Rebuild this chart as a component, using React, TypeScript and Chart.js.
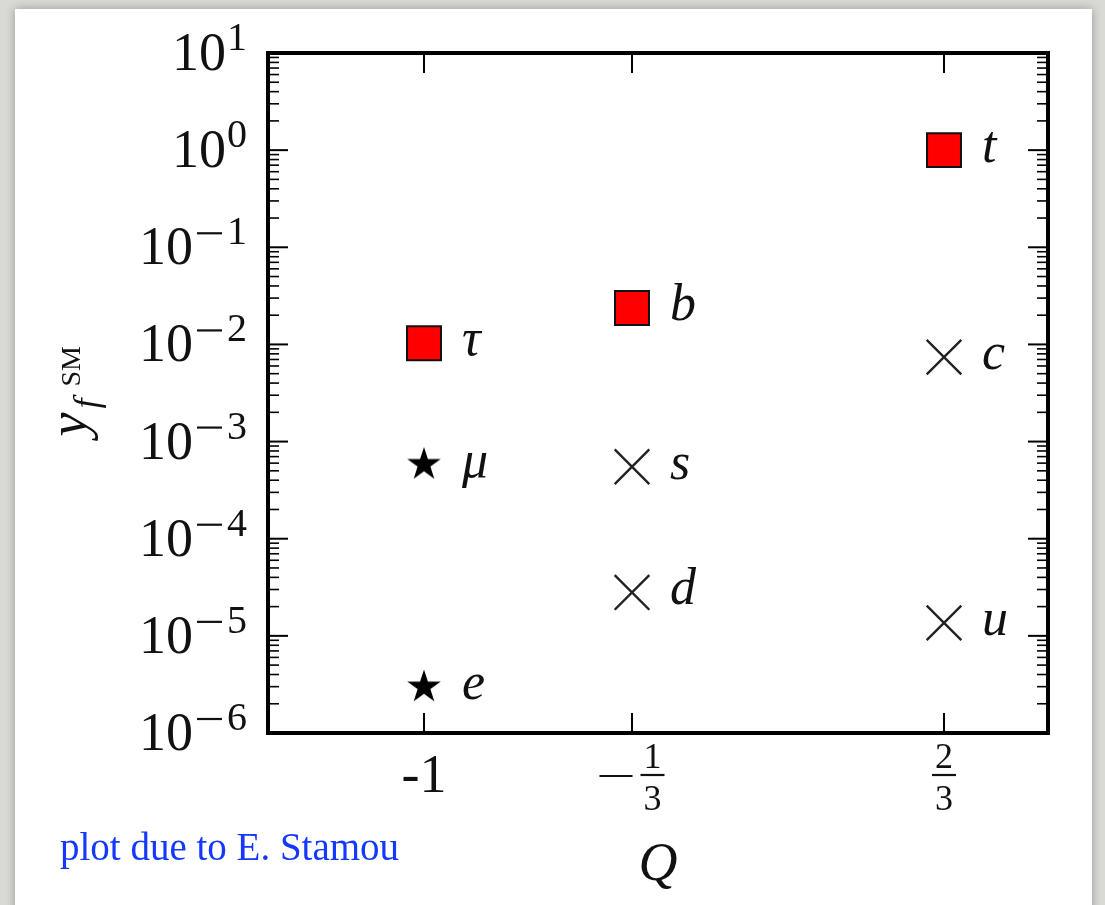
import React, { useEffect, useRef } from "react";
import { Chart, registerables } from "chart.js";

Chart.register(...registerables);

// ---- data ----
const squareLabels = ["τ", "b", "t"];
const squareCharges = [-1, -1 / 3, 2 / 3];
const squareYukawas = [0.0103, 0.0237, 1.0];

const starLabels = ["μ", "e"];
const starCharges = [-1, -1];
const starYukawas = [5.8e-4, 2.97e-6];

const crossLabels = ["s", "d", "c", "u"];
const crossCharges = [-1 / 3, -1 / 3, 2 / 3, 2 / 3];
const crossYukawas = [5.5e-4, 2.8e-5, 7.4e-3, 1.36e-5];

const yTickExponents = [-6, -5, -4, -3, -2, -1, 0, 1];
const xTickValues = [-1, -1 / 3, 2 / 3];
const xTickLabels = ["-1", "-1/3", "2/3"];

const xAxisTitle = "Q";
const creditText = "plot due to E. Stamou";

const SERIF = '"Liberation Serif", "Times New Roman", serif';

function makeStar(): HTMLCanvasElement {
  const c = document.createElement("canvas");
  c.width = 38;
  c.height = 38;
  const g = c.getContext("2d")!;
  const R = 17.6;
  const r = R * 0.381966;
  const cx = 19;
  const cy = 19;
  g.beginPath();
  for (let i = 0; i < 10; i++) {
    const rad = i % 2 === 0 ? R : r;
    const a = -Math.PI / 2 + (i * Math.PI) / 5;
    const px = cx + rad * Math.cos(a);
    const py = cy + rad * Math.sin(a);
    if (i === 0) g.moveTo(px, py);
    else g.lineTo(px, py);
  }
  g.closePath();
  g.fillStyle = "#000";
  g.fill();
  return c;
}

function line(ctx: CanvasRenderingContext2D, x1: number, y1: number, x2: number, y2: number) {
  ctx.beginPath();
  ctx.moveTo(x1, y1);
  ctx.lineTo(x2, y2);
  ctx.stroke();
}

const backgroundPlugin = {
  id: "pageBackground",
  beforeDraw(chart: any) {
    const { ctx, width, height } = chart;
    ctx.save();
    ctx.fillStyle = "#d9d9d5";
    ctx.fillRect(0, 0, width, height);
    ctx.shadowColor = "rgba(0,0,0,0.3)";
    ctx.shadowBlur = 9;
    ctx.fillStyle = "#ffffff";
    ctx.fillRect(15, 9, 1077, height + 20);
    ctx.restore();
  },
};

const axesPlugin = {
  id: "mplAxes",
  afterDatasetsDraw(chart: any) {
    const { ctx } = chart;
    ctx.save();
    ctx.fillStyle = "#111";
    ctx.font = `italic 52px ${SERIF}`;
    ctx.textAlign = "left";
    ctx.textBaseline = "alphabetic";
    chart.data.datasets.forEach((ds: any, i: number) => {
      const meta = chart.getDatasetMeta(i);
      meta.data.forEach((el: any, j: number) => {
        const lbl = ds.pointLabels[j];
        ctx.fillText(lbl, el.x + 38, el.y + 12);
      });
    });
    ctx.restore();
  },
  afterDraw(chart: any) {
    const { ctx, chartArea: a, scales } = chart;
    const xs = scales.x;
    const ys = scales.y;
    ctx.save();
    ctx.strokeStyle = "#000";
    ctx.lineCap = "butt";

    // y ticks
    const maxE = yTickExponents[yTickExponents.length - 1];
    yTickExponents.forEach((e) => {
      const py = ys.getPixelForValue(Math.pow(10, e));
      ctx.lineWidth = 2;
      line(ctx, a.left, py, a.left + 20, py);
      line(ctx, a.right, py, a.right - 20, py);
      if (e < maxE) {
        ctx.lineWidth = 1.6;
        for (let m = 2; m <= 9; m++) {
          const pm = ys.getPixelForValue(m * Math.pow(10, e));
          line(ctx, a.left, pm, a.left + 11, pm);
          line(ctx, a.right, pm, a.right - 11, pm);
        }
      }
    });

    // x ticks
    ctx.lineWidth = 2;
    xTickValues.forEach((v) => {
      const px = xs.getPixelForValue(v);
      line(ctx, px, a.bottom, px, a.bottom - 20);
      line(ctx, px, a.top, px, a.top + 20);
    });

    // frame
    ctx.lineWidth = 4;
    ctx.strokeRect(a.left, a.top, a.right - a.left, a.bottom - a.top);

    // y tick labels 10^e
    ctx.fillStyle = "#111";
    ctx.strokeStyle = "#111";
    ctx.textBaseline = "alphabetic";
    const rightEdge = a.left - 21;
    yTickExponents.forEach((e) => {
      const py = ys.getPixelForValue(Math.pow(10, e));
      const digits = String(Math.abs(e));
      ctx.font = `40px ${SERIF}`;
      ctx.textAlign = "right";
      const dW = ctx.measureText(digits).width;
      ctx.fillText(digits, rightEdge, py - 3);
      let left = rightEdge - dW;
      if (e < 0) {
        ctx.lineWidth = 2.2;
        line(ctx, left - 30, py - 14, left - 5, py - 14);
        left -= 33;
      }
      ctx.font = `54px ${SERIF}`;
      ctx.fillText("10", left - 1, py + 17);
    });

    // x tick labels
    ctx.strokeStyle = "#111";
    const base = a.bottom + 59;
    xTickValues.forEach((v, i) => {
      const px = xs.getPixelForValue(v);
      const lbl = xTickLabels[i];
      if (lbl.indexOf("/") < 0) {
        ctx.font = `54px ${SERIF}`;
        ctx.textAlign = "center";
        ctx.fillText(lbl, px, base);
        return;
      }
      const neg = lbl.startsWith("-");
      const [num, den] = lbl.replace("-", "").split("/");
      const fracW = 24;
      const minusW = 33;
      const gap = 8;
      const total = neg ? minusW + gap + fracW : fracW;
      let left = px - total / 2;
      const barY = a.bottom + 42;
      ctx.lineWidth = 2.2;
      if (neg) {
        line(ctx, left, barY + 1, left + minusW, barY + 1);
        left += minusW + gap;
      }
      line(ctx, left, barY, left + fracW, barY);
      ctx.font = `36px ${SERIF}`;
      ctx.textAlign = "center";
      ctx.fillText(num, left + fracW / 2, barY - 7);
      ctx.fillText(den, left + fracW / 2, barY + 35);
    });

    // x axis title
    ctx.font = `italic 54px ${SERIF}`;
    ctx.textAlign = "center";
    ctx.fillText(xAxisTitle, (a.left + a.right) / 2, a.bottom + 147);

    // y axis title: y_f^{SM}
    ctx.save();
    ctx.translate(86, (a.top + a.bottom) / 2);
    ctx.rotate(-Math.PI / 2);
    ctx.textAlign = "left";
    ctx.font = `italic 54px ${SERIF}`;
    ctx.fillText("y", -43.5, 0);
    ctx.font = `italic 36px ${SERIF}`;
    ctx.fillText("f", -43.5 + 28, 12);
    ctx.font = `28px ${SERIF}`;
    ctx.fillText("SM", -43.5 + 50, -6);
    ctx.restore();

    // credit
    ctx.font = `39px ${SERIF}`;
    ctx.textAlign = "left";
    ctx.fillStyle = "#1438ff";
    ctx.fillText(creditText, 60, 860);

    ctx.restore();
  },
};

export default function App() {
  const ref = useRef<HTMLCanvasElement | null>(null);

  useEffect(() => {
    if (!ref.current) return;
    const star = makeStar();
    const toPts = (xs: number[], ys: number[]) => xs.map((x, i) => ({ x, y: ys[i] }));
    const chart = new Chart(ref.current, {
      type: "scatter",
      data: {
        datasets: [
          {
            label: "squares",
            data: toPts(squareCharges, squareYukawas),
            pointStyle: "rect",
            pointRadius: 24,
            backgroundColor: "#ff0000",
            borderColor: "#111",
            borderWidth: 2,
            pointLabels: squareLabels,
          } as any,
          {
            label: "stars",
            data: toPts(starCharges, starYukawas),
            pointStyle: star as any,
            pointRadius: 17,
            backgroundColor: "#000",
            borderColor: "#000",
            pointLabels: starLabels,
          } as any,
          {
            label: "crosses",
            data: toPts(crossCharges, crossYukawas),
            pointStyle: "crossRot",
            pointRadius: 24.5,
            backgroundColor: "#222",
            borderColor: "#222",
            borderWidth: 2.4,
            pointLabels: crossLabels,
          } as any,
        ],
      },
      options: {
        animation: false,
        responsive: false,
        devicePixelRatio: 1,
        layout: { padding: { left: 268, right: 57, top: 53, bottom: 172 } },
        plugins: { legend: { display: false }, tooltip: { enabled: false }, title: { display: false } },
        events: [],
        scales: {
          x: { type: "linear", min: -1.5, max: 1, display: false },
          y: { type: "logarithmic", min: 1e-6, max: 10, display: false },
        },
      },
      plugins: [backgroundPlugin, axesPlugin],
    });
    return () => chart.destroy();
  }, []);

  return (
    <div style={{ position: "absolute", left: 0, top: 0, width: 1105, height: 905 }}>
      <canvas ref={ref} width={1105} height={905} style={{ display: "block", width: 1105, height: 905 }} />
    </div>
  );
}
